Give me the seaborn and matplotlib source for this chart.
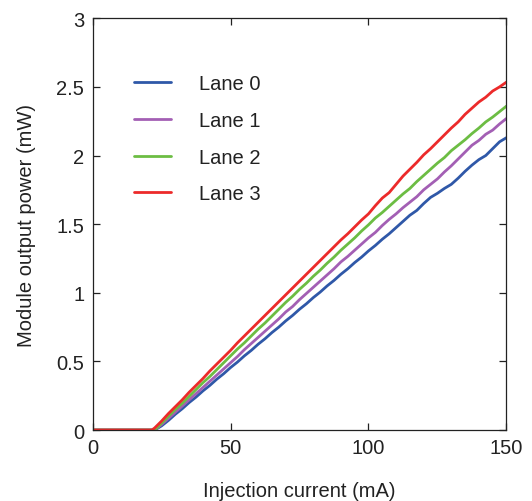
import numpy as np
import pandas as pd
import matplotlib
matplotlib.use("Agg")
import matplotlib.pyplot as plt
import seaborn as sns

current = [0, 5, 10, 15, 20, 21.5, 22.5, 25, 27.5, 30, 32.5, 35, 37.5, 40, 42.5, 45, 47.5,
           50, 52.5, 55, 57.5, 60, 62.5, 65, 67.5, 70, 72.5, 75, 77.5, 80, 82.5, 85, 87.5,
           90, 92.5, 95, 97.5, 100, 102.5, 105, 107.5, 110, 112.5, 115, 117.5, 120, 122.5,
           125, 127.5, 130, 132.5, 135, 137.5, 140, 142.5, 145, 147.5, 150]

lane0 = [0, 0, 0, 0, 0, 0, 0, 0.03, 0.07, 0.115, 0.155, 0.20, 0.24, 0.285, 0.325, 0.37, 0.41,
         0.455, 0.495, 0.54, 0.58, 0.625, 0.665, 0.71, 0.75, 0.795, 0.835, 0.88, 0.92, 0.965,
         1.005, 1.05, 1.09, 1.135, 1.175, 1.22, 1.26, 1.305, 1.345, 1.39, 1.43, 1.475, 1.52,
         1.565, 1.60, 1.65, 1.695, 1.725, 1.76, 1.79, 1.835, 1.885, 1.93, 1.97, 2.00, 2.05,
         2.10, 2.13]

lane1 = [0, 0, 0, 0, 0, 0, 0, 0.04, 0.085, 0.13, 0.175, 0.22, 0.265, 0.31, 0.355, 0.40, 0.445,
         0.49, 0.535, 0.585, 0.63, 0.675, 0.72, 0.765, 0.81, 0.86, 0.90, 0.95, 0.995, 1.04,
         1.085, 1.13, 1.175, 1.225, 1.265, 1.31, 1.355, 1.40, 1.44, 1.49, 1.535, 1.575, 1.62,
         1.66, 1.70, 1.75, 1.79, 1.83, 1.88, 1.925, 1.975, 2.025, 2.075, 2.11, 2.155, 2.185,
         2.23, 2.27]

lane2 = [0, 0, 0, 0, 0, 0, 0, 0.05, 0.10, 0.15, 0.195, 0.245, 0.295, 0.345, 0.39, 0.44, 0.49,
         0.54, 0.59, 0.635, 0.685, 0.735, 0.78, 0.83, 0.88, 0.93, 0.975, 1.025, 1.07, 1.12,
         1.165, 1.215, 1.26, 1.31, 1.355, 1.40, 1.45, 1.495, 1.545, 1.585, 1.63, 1.675, 1.72,
         1.76, 1.81, 1.855, 1.90, 1.945, 1.985, 2.035, 2.075, 2.115, 2.16, 2.20, 2.245, 2.28,
         2.32, 2.36]

lane3 = [0, 0, 0, 0, 0, 0, 0.015, 0.065, 0.12, 0.17, 0.22, 0.275, 0.325, 0.375, 0.43, 0.48, 0.53,
         0.58, 0.635, 0.685, 0.735, 0.785, 0.835, 0.885, 0.935, 0.985, 1.035, 1.085, 1.135, 1.185,
         1.235, 1.285, 1.335, 1.385, 1.43, 1.48, 1.53, 1.575, 1.635, 1.69, 1.73, 1.79, 1.85,
         1.90, 1.95, 2.005, 2.05, 2.10, 2.15, 2.20, 2.245, 2.30, 2.345, 2.39, 2.425, 2.47,
         2.50, 2.535]

lane_names = ["Lane 0", "Lane 1", "Lane 2", "Lane 3"]
colors = ["#2f58a8", "#a35fb4", "#6cbd43", "#ec2a2a"]

xticks = [0, 50, 100, 150]
yticks = [0, 0.5, 1, 1.5, 2, 2.5, 3]
ytick_labels = ["0", "0.5", "1", "1.5", "2", "2.5", "3"]

df = pd.concat([
    pd.DataFrame({"current": current, "power": vals, "lane": name})
    for name, vals in zip(lane_names, [lane0, lane1, lane2, lane3])
], ignore_index=True)

sns.set_style("ticks")
plt.rcParams["font.family"] = ["Liberation Sans", "DejaVu Sans"]
plt.rcParams["axes.edgecolor"] = "#222222"
plt.rcParams["xtick.color"] = "#222222"
plt.rcParams["ytick.color"] = "#222222"
plt.rcParams["text.color"] = "#222222"
plt.rcParams["axes.labelcolor"] = "#222222"

fs = 14.5
fig = plt.figure(figsize=(5.32, 5.02), dpi=100)
ax = fig.add_axes([0.174, 0.1414, 0.778, 0.8202])

sns.lineplot(data=df, x="current", y="power", hue="lane", hue_order=lane_names,
             palette=colors, linewidth=2.0, sort=False, estimator=None, ax=ax)

ax.set_xlim(0, 150)
ax.set_ylim(0, 3)
ax.set_xticks(xticks)
ax.set_xticklabels([str(t) for t in xticks], fontsize=fs)
ax.set_yticks(yticks)
ax.set_yticklabels(ytick_labels, fontsize=fs)
ax.tick_params(direction="in", length=5, width=0.9, top=True, right=True, pad=6)
for s in ax.spines.values():
    s.set_linewidth(0.9)

ax.set_xlabel("Injection current (mA)", fontsize=fs, labelpad=17)
ax.set_ylabel("Module output power (mW)", fontsize=fs, labelpad=15)

ax.legend(loc="upper left", bbox_to_anchor=(0.1, 0.864), frameon=False, fontsize=fs,
          handlelength=1.84, handletextpad=1.39, labelspacing=0.88,
          borderpad=0, borderaxespad=0)

fig.savefig("out.png", dpi=100)
